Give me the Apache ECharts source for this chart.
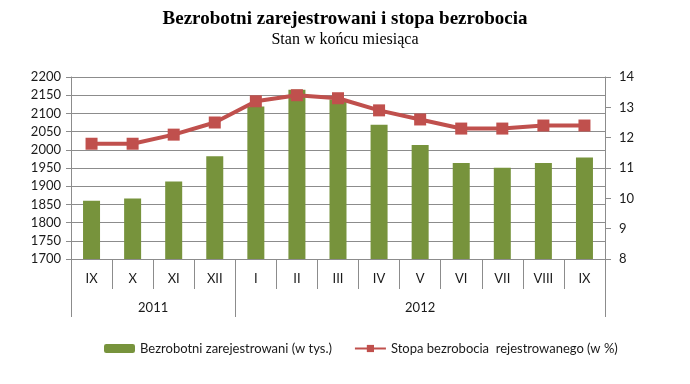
<!DOCTYPE html>
<html>
<head>
<meta charset="utf-8">
<script src="https://cdn.jsdelivr.net/npm/echarts@6/dist/echarts.min.js"></script>
<style>
html,body{margin:0;padding:0;background:#fff;}
#main{width:690px;height:384px;}
</style>
</head>
<body>
<div id="main"></div>
<script>
const months = ['IX','X','XI','XII','I','II','III','IV','V','VI','VII','VIII','IX'];
const years = ['2011','2012'];
const yearLabelPos = [2, 8.5];
const yearBounds = [0, 4, 13];
const unemployed = [1860, 1866, 1913, 1982, 2119, 2165, 2138, 2069, 2013, 1964, 1951, 1964, 1979];
const rate = [11.8, 11.8, 12.1, 12.5, 13.2, 13.4, 13.3, 12.9, 12.6, 12.3, 12.3, 12.4, 12.4];
const leftTicks = [1700, 2200, 50];
const rightTicks = [8, 14, 1];

const chart = echarts.init(document.getElementById('main'));
const axisGrey = '#8c8c8c';
const labelFont = { fontFamily: 'Lato', fontSize: 13, color: '#1a1a1a' };

chart.setOption({
  animation: false,
  backgroundColor: '#fff',
  title: {
    text: 'Bezrobotni zarejestrowani i stopa bezrobocia',
    subtext: 'Stan w końcu miesiąca',
    left: 'center',
    top: 5,
    itemGap: 3,
    textStyle: { fontFamily: 'Liberation Serif', fontWeight: 'bold', fontSize: 19, color: '#000' },
    subtextStyle: { fontFamily: 'Liberation Serif', fontSize: 16, color: '#000' }
  },
  legend: {
    bottom: 24,
    left: 99,
    itemWidth: 31,
    itemHeight: 9,
    itemGap: 22,
    textStyle: { fontFamily: 'Lato', fontSize: 13, color: '#1a1a1a' },
    data: ['Bezrobotni zarejestrowani (w tys.)', 'Stopa bezrobocia  rejestrowanego (w %)']
  },
  grid: { left: 71, right: 85, top: 77, bottom: 125, containLabel: false },
  xAxis: [
    {
      type: 'category',
      data: months,
      position: 'bottom',
      axisLine: { show: true, lineStyle: { color: axisGrey } },
      axisTick: { show: true, interval: 0, length: 30, lineStyle: { color: axisGrey } },
      axisLabel: Object.assign({ interval: 0, margin: 13 }, labelFont),
      splitLine: { show: false }
    },
    {
      type: 'value',
      min: 0,
      max: 13,
      position: 'bottom',
      axisLine: { show: false },
      splitLine: { show: false },
      axisTick: { show: true, customValues: yearBounds, length: 58, lineStyle: { color: axisGrey } },
      axisLabel: Object.assign({
        customValues: yearLabelPos,
        margin: 42,
        formatter: function (v) { const i = yearLabelPos.indexOf(v); return i >= 0 ? years[i] : ''; }
      }, labelFont)
    }
  ],
  yAxis: [
    {
      type: 'value',
      min: leftTicks[0], max: leftTicks[1], interval: leftTicks[2],
      axisLine: { show: true, lineStyle: { color: axisGrey } },
      axisTick: { show: true, length: 5, lineStyle: { color: axisGrey } },
      axisLabel: Object.assign({ margin: 10, formatter: function (v) { return String(v); } }, labelFont),
      splitLine: { show: true, lineStyle: { color: axisGrey, width: 1 } }
    },
    {
      type: 'value',
      min: rightTicks[0], max: rightTicks[1], interval: rightTicks[2],
      position: 'right',
      axisLine: { show: true, lineStyle: { color: axisGrey } },
      axisTick: { show: true, length: 6, lineStyle: { color: axisGrey } },
      axisLabel: Object.assign({ margin: 14 }, labelFont),
      splitLine: { show: false }
    }
  ],
  series: [
    {
      name: 'Bezrobotni zarejestrowani (w tys.)',
      type: 'bar',
      xAxisIndex: 0,
      yAxisIndex: 0,
      data: unemployed,
      barWidth: 17,
      itemStyle: { color: '#77933C' }
    },
    {
      name: 'Stopa bezrobocia  rejestrowanego (w %)',
      type: 'line',
      xAxisIndex: 0,
      yAxisIndex: 1,
      data: rate,
      symbol: 'rect',
      symbolSize: 12,
      lineStyle: { color: '#C0504D', width: 4 },
      itemStyle: { color: '#C0504D' }
    }
  ]
});
</script>
</body>
</html>
